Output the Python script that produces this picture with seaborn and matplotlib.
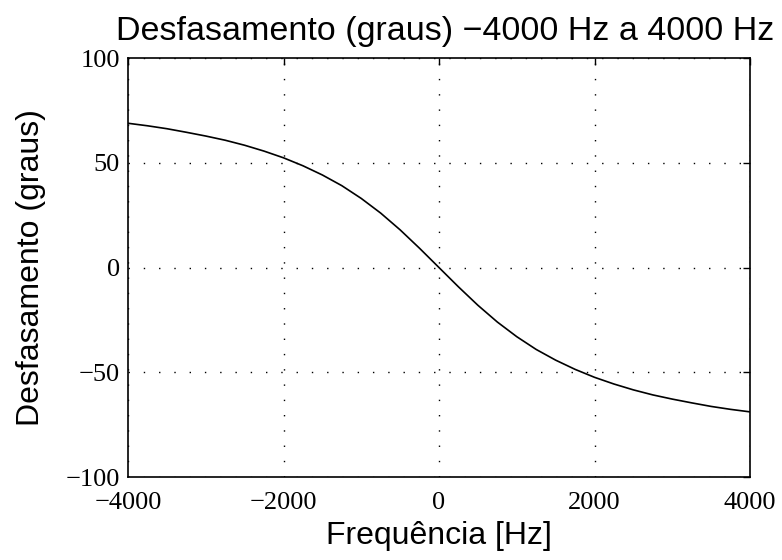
import numpy as np
import pandas as pd
import seaborn as sns
import matplotlib.pyplot as plt

# values
freq = [-4000, -3750, -3500, -3250, -3000, -2750, -2500, -2250, -2000,
        -1750, -1500, -1250, -1000, -750, -500, -250, 0,
        250, 500, 750, 1000, 1250, 1500, 1750, 2000,
        2250, 2500, 2750, 3000, 3250, 3500, 3750, 4000]
phase = [68.9, 67.7, 66.3, 64.6, 62.8, 60.8, 58.4, 55.6, 52.4,
         48.6, 44.2, 39.1, 33.0, 26.0, 18.0, 9.2, 0.0,
         -9.2, -18.0, -26.0, -33.0, -39.1, -44.2, -48.6, -52.4,
         -55.6, -58.4, -60.8, -62.8, -64.6, -66.3, -67.7, -68.9]
xticks = [-4000, -2000, 0, 2000, 4000]
yticks = [-100, -50, 0, 50, 100]

df = pd.DataFrame({"f": freq, "phase": phase})

sns.set_style("white")
plt.rcParams['font.family'] = ['Liberation Sans', 'DejaVu Sans']
plt.rcParams['text.color'] = 'black'
plt.rcParams['axes.labelcolor'] = 'black'

fig = plt.figure(figsize=(7.82, 5.6), dpi=100)
ax = fig.add_axes([0.1637, 0.1482, 0.7954, 0.748])

sns.lineplot(x="f", y="phase", data=df, ax=ax, color="black", linewidth=1.2)

ax.set_xlim(-4000, 4000)
ax.set_ylim(-100, 100)
ax.set_xticks(xticks)
ax.set_yticks(yticks)
ax.set_xticklabels([str(t).replace('-', '\u2212') for t in xticks], family='Liberation Serif', fontsize=19)
ax.set_yticklabels([str(t).replace('-', '\u2212') for t in yticks], family='Liberation Serif', fontsize=19)
ax.tick_params(axis='x', pad=11)
ax.tick_params(axis='y', pad=6)
ax.tick_params(direction='in', top=True, right=True, length=5, width=1, colors='black')
ax.grid(True, linestyle=(0, (1, 10)), color='black', linewidth=1.0)
for s in ax.spines.values():
    s.set_visible(True)
    s.set_color('black')
    s.set_linewidth(1.2)

ax.set_title("Desfasamento (graus) \u22124000 Hz a 4000 Hz", fontsize=24.5, pad=13, x=0.51, color='black')
ax.set_xlabel("Frequência [Hz]", fontsize=23, labelpad=5)
ax.set_ylabel("Desfasamento (graus)", fontsize=23, labelpad=14)

fig.savefig("out.png", dpi=100)
